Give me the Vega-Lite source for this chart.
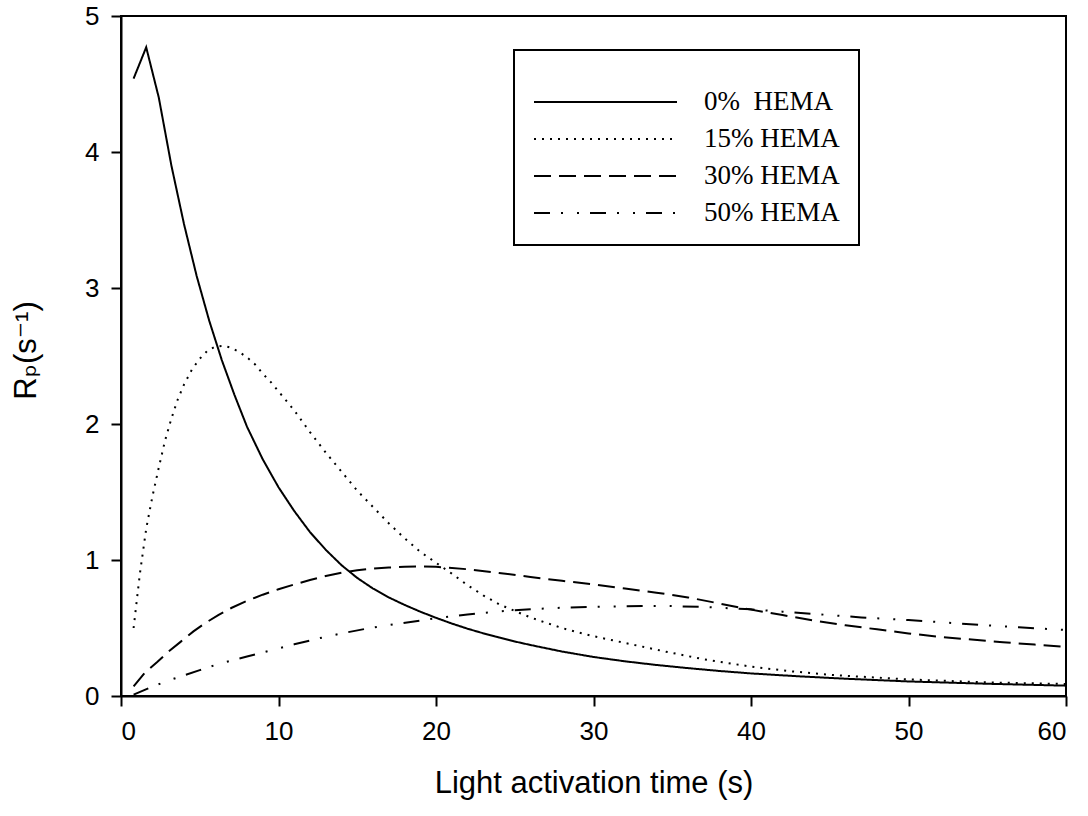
{
  "$schema": "https://vega.github.io/schema/vega-lite/v6.json",
  "width": 945,
  "height": 680,
  "autosize": {"type": "none"},
  "padding": {"left": 121, "top": 16, "right": 22, "bottom": 120},
  "background": "white",
  "data": {"values": [
    {"t":0.8,"rp":4.54,"s":"0%\u00a0 HEMA"},{"t":1.6,"rp":4.77,"s":"0%\u00a0 HEMA"},{"t":2.4,"rp":4.40,"s":"0%\u00a0 HEMA"},{"t":3.2,"rp":3.90,"s":"0%\u00a0 HEMA"},{"t":4.0,"rp":3.47,"s":"0%\u00a0 HEMA"},{"t":4.8,"rp":3.09,"s":"0%\u00a0 HEMA"},{"t":5.6,"rp":2.76,"s":"0%\u00a0 HEMA"},{"t":6.4,"rp":2.47,"s":"0%\u00a0 HEMA"},{"t":7.2,"rp":2.215,"s":"0%\u00a0 HEMA"},{"t":8.0,"rp":1.98,"s":"0%\u00a0 HEMA"},{"t":9,"rp":1.74,"s":"0%\u00a0 HEMA"},{"t":10,"rp":1.535,"s":"0%\u00a0 HEMA"},{"t":11,"rp":1.36,"s":"0%\u00a0 HEMA"},{"t":12,"rp":1.205,"s":"0%\u00a0 HEMA"},{"t":13,"rp":1.075,"s":"0%\u00a0 HEMA"},{"t":14,"rp":0.962,"s":"0%\u00a0 HEMA"},{"t":15,"rp":0.868,"s":"0%\u00a0 HEMA"},{"t":16,"rp":0.79,"s":"0%\u00a0 HEMA"},{"t":17,"rp":0.725,"s":"0%\u00a0 HEMA"},{"t":18,"rp":0.67,"s":"0%\u00a0 HEMA"},{"t":19,"rp":0.62,"s":"0%\u00a0 HEMA"},{"t":20,"rp":0.575,"s":"0%\u00a0 HEMA"},{"t":21,"rp":0.533,"s":"0%\u00a0 HEMA"},{"t":22,"rp":0.495,"s":"0%\u00a0 HEMA"},{"t":23,"rp":0.461,"s":"0%\u00a0 HEMA"},{"t":24,"rp":0.43,"s":"0%\u00a0 HEMA"},{"t":25,"rp":0.401,"s":"0%\u00a0 HEMA"},{"t":26,"rp":0.375,"s":"0%\u00a0 HEMA"},{"t":28,"rp":0.327,"s":"0%\u00a0 HEMA"},{"t":30,"rp":0.287,"s":"0%\u00a0 HEMA"},{"t":32,"rp":0.255,"s":"0%\u00a0 HEMA"},{"t":34,"rp":0.228,"s":"0%\u00a0 HEMA"},{"t":36,"rp":0.205,"s":"0%\u00a0 HEMA"},{"t":38,"rp":0.184,"s":"0%\u00a0 HEMA"},{"t":40,"rp":0.166,"s":"0%\u00a0 HEMA"},{"t":43,"rp":0.145,"s":"0%\u00a0 HEMA"},{"t":46,"rp":0.127,"s":"0%\u00a0 HEMA"},{"t":50,"rp":0.107,"s":"0%\u00a0 HEMA"},{"t":55,"rp":0.09,"s":"0%\u00a0 HEMA"},{"t":60,"rp":0.076,"s":"0%\u00a0 HEMA"},

    {"t":0.8,"rp":0.50,"s":"15% HEMA"},{"t":1.2,"rp":0.90,"s":"15% HEMA"},{"t":1.6,"rp":1.23,"s":"15% HEMA"},{"t":2.0,"rp":1.47,"s":"15% HEMA"},{"t":2.4,"rp":1.68,"s":"15% HEMA"},{"t":2.8,"rp":1.88,"s":"15% HEMA"},{"t":3.2,"rp":2.04,"s":"15% HEMA"},{"t":3.6,"rp":2.18,"s":"15% HEMA"},{"t":4.0,"rp":2.29,"s":"15% HEMA"},{"t":4.5,"rp":2.40,"s":"15% HEMA"},{"t":5.0,"rp":2.48,"s":"15% HEMA"},{"t":5.5,"rp":2.54,"s":"15% HEMA"},{"t":6.0,"rp":2.57,"s":"15% HEMA"},{"t":6.5,"rp":2.575,"s":"15% HEMA"},{"t":7.0,"rp":2.56,"s":"15% HEMA"},{"t":7.5,"rp":2.53,"s":"15% HEMA"},{"t":8.0,"rp":2.49,"s":"15% HEMA"},{"t":8.5,"rp":2.44,"s":"15% HEMA"},{"t":9.0,"rp":2.37,"s":"15% HEMA"},{"t":9.5,"rp":2.31,"s":"15% HEMA"},{"t":10,"rp":2.24,"s":"15% HEMA"},{"t":11,"rp":2.10,"s":"15% HEMA"},{"t":12,"rp":1.94,"s":"15% HEMA"},{"t":13,"rp":1.79,"s":"15% HEMA"},{"t":14,"rp":1.65,"s":"15% HEMA"},{"t":15,"rp":1.51,"s":"15% HEMA"},{"t":16,"rp":1.39,"s":"15% HEMA"},{"t":17,"rp":1.27,"s":"15% HEMA"},{"t":18,"rp":1.16,"s":"15% HEMA"},{"t":19,"rp":1.06,"s":"15% HEMA"},{"t":20,"rp":0.98,"s":"15% HEMA"},{"t":21,"rp":0.90,"s":"15% HEMA"},{"t":22,"rp":0.815,"s":"15% HEMA"},{"t":23,"rp":0.74,"s":"15% HEMA"},{"t":24,"rp":0.675,"s":"15% HEMA"},{"t":25,"rp":0.625,"s":"15% HEMA"},{"t":26,"rp":0.578,"s":"15% HEMA"},{"t":27,"rp":0.538,"s":"15% HEMA"},{"t":28,"rp":0.50,"s":"15% HEMA"},{"t":29,"rp":0.468,"s":"15% HEMA"},{"t":30,"rp":0.44,"s":"15% HEMA"},{"t":32,"rp":0.39,"s":"15% HEMA"},{"t":34.6,"rp":0.326,"s":"15% HEMA"},{"t":37,"rp":0.27,"s":"15% HEMA"},{"t":40,"rp":0.216,"s":"15% HEMA"},{"t":42.5,"rp":0.182,"s":"15% HEMA"},{"t":45.2,"rp":0.154,"s":"15% HEMA"},{"t":50,"rp":0.122,"s":"15% HEMA"},{"t":55,"rp":0.10,"s":"15% HEMA"},{"t":60,"rp":0.088,"s":"15% HEMA"},

    {"t":0.8,"rp":0.07,"s":"30% HEMA"},{"t":1.5,"rp":0.17,"s":"30% HEMA"},{"t":2.3,"rp":0.25,"s":"30% HEMA"},{"t":3.0,"rp":0.325,"s":"30% HEMA"},{"t":3.8,"rp":0.40,"s":"30% HEMA"},{"t":4.6,"rp":0.475,"s":"30% HEMA"},{"t":5.4,"rp":0.54,"s":"30% HEMA"},{"t":6.2,"rp":0.597,"s":"30% HEMA"},{"t":7.0,"rp":0.647,"s":"30% HEMA"},{"t":8,"rp":0.70,"s":"30% HEMA"},{"t":9,"rp":0.745,"s":"30% HEMA"},{"t":10,"rp":0.785,"s":"30% HEMA"},{"t":11,"rp":0.82,"s":"30% HEMA"},{"t":12,"rp":0.853,"s":"30% HEMA"},{"t":13,"rp":0.882,"s":"30% HEMA"},{"t":14,"rp":0.906,"s":"30% HEMA"},{"t":15,"rp":0.924,"s":"30% HEMA"},{"t":16,"rp":0.937,"s":"30% HEMA"},{"t":17,"rp":0.945,"s":"30% HEMA"},{"t":18,"rp":0.95,"s":"30% HEMA"},{"t":19,"rp":0.952,"s":"30% HEMA"},{"t":20,"rp":0.95,"s":"30% HEMA"},{"t":22,"rp":0.932,"s":"30% HEMA"},{"t":24,"rp":0.905,"s":"30% HEMA"},{"t":26,"rp":0.875,"s":"30% HEMA"},{"t":28,"rp":0.847,"s":"30% HEMA"},{"t":30,"rp":0.82,"s":"30% HEMA"},{"t":32,"rp":0.79,"s":"30% HEMA"},{"t":34,"rp":0.76,"s":"30% HEMA"},{"t":36,"rp":0.725,"s":"30% HEMA"},{"t":38,"rp":0.68,"s":"30% HEMA"},{"t":40,"rp":0.635,"s":"30% HEMA"},{"t":42,"rp":0.595,"s":"30% HEMA"},{"t":44,"rp":0.555,"s":"30% HEMA"},{"t":46,"rp":0.52,"s":"30% HEMA"},{"t":48,"rp":0.49,"s":"30% HEMA"},{"t":50,"rp":0.46,"s":"30% HEMA"},{"t":52,"rp":0.435,"s":"30% HEMA"},{"t":54,"rp":0.415,"s":"30% HEMA"},{"t":56,"rp":0.395,"s":"30% HEMA"},{"t":58,"rp":0.378,"s":"30% HEMA"},{"t":60,"rp":0.36,"s":"30% HEMA"},

    {"t":0.8,"rp":0.01,"s":"50% HEMA"},{"t":2,"rp":0.07,"s":"50% HEMA"},{"t":3.3,"rp":0.125,"s":"50% HEMA"},{"t":5,"rp":0.19,"s":"50% HEMA"},{"t":6.3,"rp":0.24,"s":"50% HEMA"},{"t":8,"rp":0.29,"s":"50% HEMA"},{"t":9.5,"rp":0.335,"s":"50% HEMA"},{"t":11,"rp":0.38,"s":"50% HEMA"},{"t":12.6,"rp":0.425,"s":"50% HEMA"},{"t":14,"rp":0.46,"s":"50% HEMA"},{"t":15.8,"rp":0.50,"s":"50% HEMA"},{"t":17.5,"rp":0.53,"s":"50% HEMA"},{"t":19,"rp":0.555,"s":"50% HEMA"},{"t":20,"rp":0.572,"s":"50% HEMA"},{"t":22,"rp":0.60,"s":"50% HEMA"},{"t":24,"rp":0.622,"s":"50% HEMA"},{"t":26,"rp":0.638,"s":"50% HEMA"},{"t":28,"rp":0.649,"s":"50% HEMA"},{"t":30,"rp":0.656,"s":"50% HEMA"},{"t":32,"rp":0.66,"s":"50% HEMA"},{"t":34.6,"rp":0.662,"s":"50% HEMA"},{"t":37,"rp":0.655,"s":"50% HEMA"},{"t":40,"rp":0.637,"s":"50% HEMA"},{"t":42,"rp":0.62,"s":"50% HEMA"},{"t":45,"rp":0.595,"s":"50% HEMA"},{"t":47,"rp":0.578,"s":"50% HEMA"},{"t":50,"rp":0.558,"s":"50% HEMA"},{"t":52,"rp":0.543,"s":"50% HEMA"},{"t":54.7,"rp":0.522,"s":"50% HEMA"},{"t":57,"rp":0.505,"s":"50% HEMA"},{"t":60,"rp":0.485,"s":"50% HEMA"}
  ]},
  "mark": {"type": "line", "interpolate": "linear", "strokeWidth": 2, "color": "black", "clip": true, "strokeJoin": "miter"},
  "encoding": {
    "x": {"field": "t", "type": "quantitative", "title": "Light activation time (s)",
          "scale": {"domain": [0, 60], "nice": false, "zero": false},
          "axis": {"values": [0,10,20,30,40,50,60], "titleY": 96, "titleBaseline": "alphabetic", "labelPadding": 12}},
    "y": {"field": "rp", "type": "quantitative", "title": "R\u209a(s\u207b\u00b9)",
          "scale": {"domain": [0, 5], "nice": false},
          "axis": {"values": [0,1,2,3,4,5], "titleX": -86, "titleY": 334, "titleBaseline": "alphabetic", "labelPadding": 12}},
    "strokeDash": {"field": "s", "type": "nominal", "title": " ",
      "scale": {"domain": ["0%\u00a0 HEMA", "15% HEMA", "30% HEMA", "50% HEMA"],
                "range": [[1, 0], [2, 6], [17, 8], [16, 11, 2, 14, 2, 11]]},
      "legend": {"orient": "none", "legendX": 393, "legendY": 34}}
  },
  "config": {
    "view": {"stroke": "black", "strokeWidth": 2},
    "axis": {"grid": false, "domainColor": "black", "domainWidth": 2, "tickColor": "black", "tickWidth": 2, "tickSize": 10,
             "labelFont": "Liberation Sans", "labelFontSize": 26, "labelColor": "black",
             "titleFont": "Liberation Sans, DejaVu Sans", "titleFontSize": 31, "titleColor": "black", "titleFontWeight": "normal"},
    "legend": {"strokeColor": "black", "strokeWidth": 2, "fillColor": "white", "padding": 19,
               "symbolType": "stroke", "symbolSize": 20449, "symbolStrokeWidth": 2, "symbolStrokeColor": "black",
               "clipHeight": 26,
               "labelFont": "Liberation Serif", "labelFontSize": 27, "labelColor": "black", "labelOffset": 26, "labelLimit": 400,
               "rowPadding": 10, "titleFontSize": 20, "titlePadding": 0, "titleColor": "black"}
  }
}
